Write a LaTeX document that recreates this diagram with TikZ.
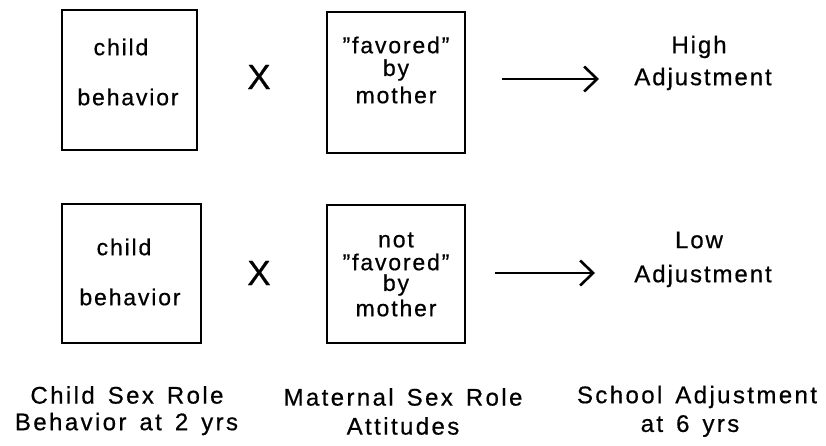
\documentclass[tikz,border=0pt]{standalone}
\usepackage{fontspec}
\setmainfont{Liberation Sans}[LetterSpace=8,FakeBold=0.6]
\newfontfamily\capfont{Liberation Sans}[LetterSpace=10,FakeBold=0.6]
\usetikzlibrary{arrows.meta}
\newcommand\capwords{\spaceskip=13pt plus 2pt\relax}

\tikzset{
  boxframe/.style={draw, line width=1.6pt, minimum width=#1, inner sep=0pt},
  boxtext/.style={inner sep=0pt, font=\fontsize{23}{26}\selectfont},
  sidetext/.style={inner sep=0pt, font=\fontsize{24}{26}\selectfont},
  captext/.style={inner sep=0pt, font=\capfont\fontsize{24}{26}\selectfont\capwords},
  times/.style={inner sep=0pt, font=\fontsize{35}{36}\selectfont},
  leadsto/.style={line width=2.6pt, -{Straight Barb[length=13pt,width=25pt,line width=2.6pt]}}
}

\begin{document}
\begin{tikzpicture}[x=1pt,y=-1pt]
  \useasboundingbox (0,0) rectangle (826,446);

  % upper row: favoured
  \node[boxframe=135pt, minimum height=140pt] (cb1) at (129.5,80) {};
  \node[boxtext] (cb1a) at (121,47) {child};
  \node[boxtext] (cb1b) at (128,97) {behavior};

  \node[times] (x1) at (259,77) {X};

  \node[boxframe=138pt, minimum height=141pt] (ma1) at (396,82.5) {};
  \node[boxtext] (ma1a) at (396,45) {"favored"};
  \node[boxtext] (ma1b) at (396,70) {by};
  \node[boxtext] (ma1c) at (396,95) {mother};

  \coordinate (ar1s) at (502,79);
  \coordinate (ar1e) at (599,79);
  \draw[leadsto] (ar1s) -- (ar1e);

  \node[sidetext] (hi1) at (699,47) {High};
  \node[sidetext] (hi2) at (703,79) {Adjustment};

  % lower row: not favoured
  \node[boxframe=139pt, minimum height=139pt] (cb2) at (131.5,273.5) {};
  \node[boxtext] (cb2a) at (124,247) {child};
  \node[boxtext] (cb2b) at (130,297) {behavior};

  \node[times] (x2) at (259,273) {X};

  \node[boxframe=138pt, minimum height=138pt] (ma2) at (396,274) {};
  \node[boxtext] (ma2a) at (396,240) {not};
  \node[boxtext] (ma2b) at (396,262) {"favored"};
  \node[boxtext] (ma2c) at (396,285) {by};
  \node[boxtext] (ma2d) at (396,308) {mother};

  \coordinate (ar2s) at (495,273);
  \coordinate (ar2e) at (595,273);
  \draw[leadsto] (ar2s) -- (ar2e);

  \node[sidetext] (lo1) at (699,240) {Low};
  \node[sidetext] (lo2) at (703,276) {Adjustment};

  % column captions
  \node[captext] (c1a) at (127,395) {Child Sex Role};
  \node[captext] (c1b) at (126.5,424) {Behavior at 2 yrs};
  \node[captext] (c2a) at (403,397) {Maternal Sex Role};
  \node[captext] (c2b) at (403,426) {Attitudes};
  \node[captext] (c3a) at (697,397) {School Adjustment};
  \node[captext] (c3b) at (690,426) {at 6 yrs};
\end{tikzpicture}
\end{document}
